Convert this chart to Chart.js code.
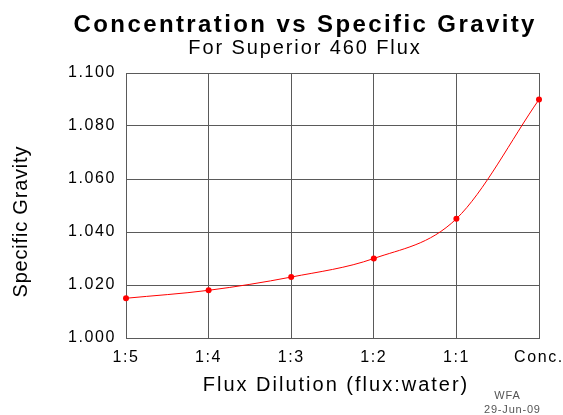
<!DOCTYPE html>
<html>
<head>
<meta charset="utf-8">
<script src="https://cdn.jsdelivr.net/npm/chart.js@4.4.0/dist/chart.umd.min.js"></script>
<style>
  html, body { margin: 0; padding: 0; background: #fff; }
  #wrap { width: 563px; height: 415px; }
</style>
</head>
<body>
<div id="wrap"><canvas id="sg" width="563" height="415"></canvas></div>
<script>
const dilutions = ['1:5', '1:4', '1:3', '1:2', '1:1', 'Conc.'];
const gravity = [1.015, 1.018, 1.023, 1.030, 1.045, 1.090];
const yTicks = [1.000, 1.020, 1.040, 1.060, 1.080, 1.100];

const FONT = '"Liberation Sans", Arial, Helvetica, sans-serif';

// old plotting package look: every label is a little spaced out
const spacing = {
    id: 'spacing',
    beforeLayout(chart) { chart.ctx.letterSpacing = '1.6px'; },
    beforeDraw(chart) { chart.ctx.letterSpacing = '1.6px'; }
};

function txt(c, s, x, y, font, gap, color) {
    c.save();
    c.font = font;
    c.letterSpacing = gap + 'px';
    c.fillStyle = color || '#000';
    c.textAlign = 'center';
    c.textBaseline = 'alphabetic';
    c.fillText(s, x + gap / 2, y);
    c.restore();
}

const labels = {
    id: 'labels',
    afterDraw(chart) {
        const c = chart.ctx;
        txt(c, 'Concentration vs Specific Gravity', 304, 32, 'bold 24px ' + FONT, 2.4);
        txt(c, 'For Superior 460 Flux', 304, 54, '20px ' + FONT, 1.9);
        txt(c, 'Flux Dilution (flux:water)', 335, 391, '20px ' + FONT, 2);
        c.save();
        c.translate(27, 222);
        c.rotate(-Math.PI / 2);
        txt(c, 'Specific Gravity', 0, 0, '20px ' + FONT, 0.8);
        c.restore();
        txt(c, 'WFA', 507, 399, '11px ' + FONT, 0.8, '#555');
        txt(c, '29-Jun-09', 512, 413, '11px ' + FONT, 0.8, '#555');
    }
};

const ctx = document.getElementById('sg').getContext('2d');
new Chart(ctx, {
    type: 'line',
    data: {
        labels: dilutions,
        datasets: [{
            data: gravity,
            borderColor: '#ff0000',
            backgroundColor: '#ff0000',
            borderWidth: 1,
            pointRadius: 3,
            pointBorderWidth: 0,
            cubicInterpolationMode: 'monotone',
            fill: false
        }]
    },
    options: {
        responsive: false,
        animation: false,
        layout: { padding: { left: 0, right: 24, top: 73, bottom: 0 } },
        plugins: {
            legend: { display: false },
            tooltip: { enabled: false }
        },
        scales: {
            x: {
                offset: false,
                grid: { color: '#5a5a5a', lineWidth: 1, drawTicks: false },
                border: { color: '#5a5a5a' },
                ticks: {
                    color: '#000',
                    padding: 10,
                    maxRotation: 0,
                    font: { family: FONT, size: 16 }
                },
                afterFit(scale) {
                    scale.height = 77;
                    scale.paddingLeft = 0;
                    scale.paddingRight = 0;
                }
            },
            y: {
                min: 1.0,
                max: 1.1,
                grid: { color: '#5a5a5a', lineWidth: 1, drawTicks: false },
                border: { color: '#5a5a5a' },
                afterBuildTicks(scale) { scale.ticks = yTicks.map(v => ({ value: v })); },
                ticks: {
                    color: '#000',
                    padding: 10,
                    font: { family: FONT, size: 16 },
                    callback: v => v.toFixed(3)
                },
                afterFit(scale) {
                    scale.width = 126;
                    scale.paddingTop = 0;
                    scale.paddingBottom = 0;
                }
            }
        }
    },
    plugins: [spacing, labels]
});
</script>
</body>
</html>
